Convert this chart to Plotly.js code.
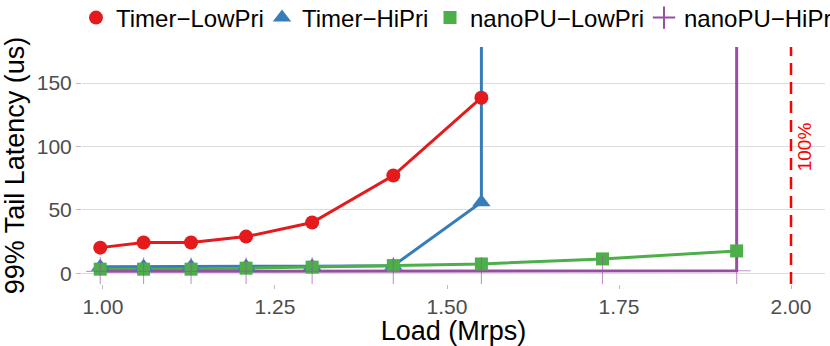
<!DOCTYPE html>
<html><head><meta charset="utf-8">
<script src="https://cdn.plot.ly/plotly-3.0.1.min.js"></script>
<style>html,body{margin:0;padding:0;background:#fff;}</style>
</head><body><div id="chart" style="width:830px;height:346px;"></div>
<script>
// ---- data ----
const seriesNames = ["Timer\u2212LowPri", "Timer\u2212HiPri", "nanoPU\u2212LowPri", "nanoPU\u2212HiPri"];
const seriesColors = ["#E41A1C", "#377EB8", "#4DAF4A", "#984EA3"];

const timerLowX = [0.996, 1.059, 1.128, 1.208, 1.304, 1.422, 1.550];
const timerLowY = [20.2, 24.2, 24.2, 28.9, 40.0, 77.1, 138.5];

const timerHiX = [0.996, 1.059, 1.128, 1.208, 1.304, 1.422, 1.550, 1.550];
const timerHiY = [5.2, 5.2, 5.3, 5.4, 5.6, 5.9, 56.0, 5000];

const nanoLowX = [0.996, 1.059, 1.128, 1.208, 1.304, 1.422, 1.550, 1.726, 1.921];
const nanoLowY = [3.2, 3.2, 3.2, 4.0, 4.8, 6.0, 7.3, 11.3, 17.6];

const nanoHiX = [0.996, 1.059, 1.128, 1.208, 1.304, 1.422, 1.550, 1.726, 1.921, 1.921];
const nanoHiY = [1.5, 1.5, 1.5, 1.6, 1.6, 1.7, 1.8, 1.9, 2.0, 5000];

const capacityLoad = 2.0;
const capacityLabel = "100%";
const capacityLabelY = 100;

const xTickVals = [1.00, 1.25, 1.50, 1.75, 2.00];
const xTickText = ["1.00", "1.25", "1.50", "1.75", "2.00"];
const yTickVals = [0, 50, 100, 150];
const yTickText = ["0", "50", "100", "150"];

// ---- styling ----
const FONT = "Liberation Sans, Arial, Helvetica, sans-serif";
const xs = [timerLowX, timerHiX, nanoLowX, nanoHiX];
const ys = [timerLowY, timerHiY, nanoLowY, nanoHiY];
const symbols = ["circle", "triangle-up", "square", "cross-thin"];
const sizes = [14, 16, 13, 20];
const legendSizes = [14, 16, 13, 16];
const legendIds = ["legend", "legend2", "legend3", "legend4"];
const legendStartPx = [76, 262, 430, 644];

const traces = [];
// lines first
for (let i = 0; i < 4; i++) {
  traces.push({
    x: xs[i], y: ys[i], type: "scatter", mode: "lines",
    line: {color: seriesColors[i], width: 3},
    showlegend: false, hoverinfo: "skip"
  });
}
// then points
for (let i = 0; i < 4; i++) {
  const m = {symbol: symbols[i], size: sizes[i], color: seriesColors[i]};
  if (symbols[i] === "cross-thin") m.line = {color: "rgba(152,78,163,0.6)", width: 1.1};
  else m.line = {width: 0};
  traces.push({
    x: xs[i], y: ys[i], type: "scatter", mode: "markers",
    marker: m, showlegend: false
  });
}
// legend keys
for (let i = 0; i < 4; i++) {
  const m = {symbol: symbols[i], size: legendSizes[i], color: seriesColors[i]};
  if (symbols[i] === "cross-thin") m.line = {color: seriesColors[i], width: 2};
  else m.line = {width: 0};
  traces.push({
    x: [null], y: [null], type: "scatter", mode: "markers",
    name: seriesNames[i], marker: m, legend: legendIds[i], showlegend: true
  });
}

const layout = {
  width: 830, height: 346,
  margin: {l: 82, r: 5, t: 47, b: 62, pad: 0},
  paper_bgcolor: "#fff", plot_bgcolor: "#fff",
  font: {family: FONT, color: "#000"},
  xaxis: {
    range: [0.9695, 2.0494], tickvals: xTickVals, ticktext: xTickText,
    showgrid: false, zeroline: false, showline: false,
    ticks: "outside", ticklen: 4, tickcolor: "#bdbdbd", tickwidth: 1,
    tickfont: {size: 21, color: "#4d4d4d", family: FONT},
    title: {text: "Load (Mrps)", font: {size: 27, color: "#000", family: FONT}, standoff: 4}
  },
  yaxis: {
    range: [-8.5, 178.5], tickvals: yTickVals, ticktext: yTickText,
    showgrid: true, gridcolor: "#dcdcdc", gridwidth: 1.2,
    zeroline: false, showline: false,
    ticks: "outside", ticklen: 5, tickcolor: "#bdbdbd", tickwidth: 1,
    tickfont: {size: 21, color: "#4d4d4d", family: FONT},
    title: {text: "99% Tail Latency (us)", font: {size: 27, color: "#000", family: FONT}, standoff: 4}
  },
  shapes: [{
    type: "line", xref: "x", yref: "paper", x0: capacityLoad, x1: capacityLoad, y0: 0, y1: 1,
    line: {color: "#FF0000", width: 2.5, dash: "12px,7px"}
  }],
  annotations: [{
    xref: "x", yref: "y", x: capacityLoad + 0.02, y: capacityLabelY,
    text: capacityLabel, textangle: -90, showarrow: false,
    font: {size: 19, color: "#FF0000", family: FONT}
  }]
};
legendIds.forEach((id, i) => {
  layout[id] = {
    orientation: "h", xref: "container", yref: "container",
    x: legendStartPx[i] / 830, xanchor: "left",
    y: 1 - 18 / 346, yanchor: "middle",
    font: {size: 24, color: "#000", family: FONT},
    bgcolor: "rgba(0,0,0,0)", borderwidth: 0, itemwidth: 30
  };
});

Plotly.newPlot("chart", traces, layout, {displayModeBar: false, staticPlot: true});
</script>
</body></html>
